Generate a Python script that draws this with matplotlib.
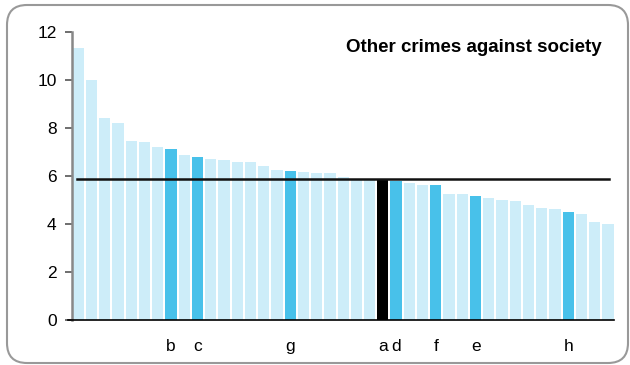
import matplotlib
matplotlib.use("Agg")
import matplotlib.pyplot as plt
from matplotlib.patches import FancyBboxPatch

plt.rcParams['font.family'] = ['Liberation Sans', 'DejaVu Sans']

values = [11.33, 10.0, 8.41, 8.2, 7.45, 7.41, 7.2, 7.11, 6.86, 6.78, 6.7, 6.65, 6.57, 6.57,
          6.4, 6.24, 6.2, 6.15, 6.11, 6.11, 5.94, 5.87, 5.87, 5.86, 5.78, 5.69, 5.61, 5.61,
          5.23, 5.23, 5.15, 5.07, 4.98, 4.94, 4.78, 4.65, 4.61, 4.48, 4.4, 4.07, 3.98]
# label for highlighted bars ('' for others)
labels = [''] * len(values)
highlight = {7: 'b', 9: 'c', 16: 'g', 23: 'a', 24: 'd', 27: 'f', 30: 'e', 37: 'h'}
for k, v in highlight.items():
    labels[k] = v
average = 5.86
title = "Other crimes against society"
yticks = [0, 2, 4, 6, 8, 10, 12]

light = '#CDEDF9'
dark = '#48C1EA'
colors = []
for i, lab in enumerate(labels):
    if lab == 'a':
        colors.append('#000000')
    elif lab:
        colors.append(dark)
    else:
        colors.append(light)

fig = plt.figure(figsize=(6.3, 3.65), dpi=100)
ax = fig.add_axes([72/630, 1 - 320/365, (614-72)/630, (320-32)/365])

x = list(range(len(values)))
ax.bar(x, values, width=0.85, color=colors, zorder=2)
ax.plot([-0.1, len(values) - 1 + 0.05], [average, average], color='#111111', lw=1.8, zorder=3)

ax.set_ylim(0, 12)
ax.set_xlim(-0.47, len(values) - 0.55)
ax.set_yticks(yticks)
ax.set_yticklabels([str(t) for t in yticks], fontsize=12.5)
ax.set_xticks(x)
ax.set_xticklabels(labels, fontsize=12.5)
ax.tick_params(axis='x', length=0, pad=14)
ax.tick_params(axis='y', length=5, width=1.2, color='#555555', direction='out', pad=6)

for s in ['top', 'right']:
    ax.spines[s].set_visible(False)
ax.spines['left'].set_color('#888888')
ax.spines['left'].set_linewidth(1.8)
ax.spines['bottom'].set_color('#000000')
ax.spines['bottom'].set_linewidth(1.2)
ax.spines['bottom'].set_bounds(-0.8, len(values) - 0.55)

ax.text(0.978, 0.975, title, transform=ax.transAxes, ha='right', va='top',
        fontsize=13.5, fontweight='bold')

border = FancyBboxPatch((0.07, 0.02), 6.21, 3.58,
                        boxstyle="round,pad=0,rounding_size=0.2",
                        transform=fig.dpi_scale_trans, fill=False,
                        edgecolor='#999999', lw=1.5, clip_on=False)
fig.patches.append(border)

fig.savefig('out.png', dpi=100)
